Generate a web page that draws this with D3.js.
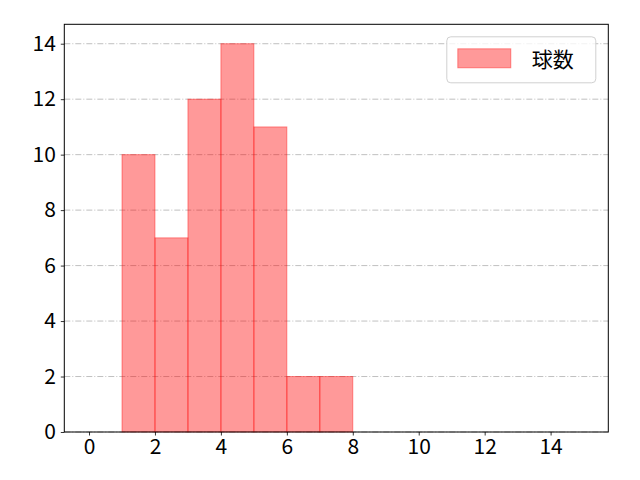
<!DOCTYPE html>
<html>
<head>
<meta charset="utf-8">
<script src="https://cdn.jsdelivr.net/npm/d3@7"></script>
<style>
  body { margin: 0; background: #fff; }
  text { font-family: "Noto Sans CJK JP", "DejaVu Sans", sans-serif; }
</style>
</head>
<body>
<div id="chart"></div>
<script>
// histogram bins (left edge) and counts
var binStarts = [1, 2, 3, 4, 5, 6, 7];
var counts = [10, 7, 12, 14, 11, 2, 2];
var xTicks = [0, 2, 4, 6, 8, 10, 12, 14];
var yTicks = [0, 2, 4, 6, 8, 10, 12, 14];
var seriesName = "球数";

var margin = {top: 24.3, right: 31.7, bottom: 48, left: 64.3},
    width = 640 - margin.left - margin.right,
    height = 480 - margin.top - margin.bottom;

var svg = d3.select("#chart")
  .append("svg")
    .attr("width", 640)
    .attr("height", 480)
  .append("g")
    .attr("transform", "translate(" + margin.left + "," + margin.top + ")");

var x = d3.scaleLinear().domain([-0.75, 15.75]).range([0, width]);
var y = d3.scaleLinear().domain([0, 14.7]).range([height, 0]);

// grid lines
svg.append("g")
  .selectAll("line")
  .data(yTicks)
  .enter().append("line")
    .attr("x1", 0)
    .attr("x2", width)
    .attr("y1", function(d) { return y(d); })
    .attr("y2", function(d) { return y(d); })
    .attr("stroke", "#b0b0b0")
    .attr("stroke-width", 0.8)
    .attr("stroke-dasharray", "6,2,1,2");

// bars
svg.append("g")
  .selectAll("rect")
  .data(counts)
  .enter().append("rect")
    .attr("x", function(d, i) { return x(binStarts[i]); })
    .attr("width", function(d, i) { return x(binStarts[i] + 1) - x(binStarts[i]); })
    .attr("y", function(d) { return y(d); })
    .attr("height", function(d) { return y(0) - y(d); })
    .attr("fill", "rgba(255,0,0,0.4)")
    .attr("stroke", "rgba(255,0,0,0.4)")
    .attr("stroke-width", 1);

// axes
var xAxis = svg.append("g")
  .attr("transform", "translate(0," + height + ")")
  .call(d3.axisBottom(x).tickValues(xTicks).tickSize(3.5).tickPadding(4).tickSizeOuter(0));
var yAxis = svg.append("g")
  .call(d3.axisLeft(y).tickValues(yTicks).tickSize(3.5).tickPadding(5).tickSizeOuter(0));
[xAxis, yAxis].forEach(function(a) {
  a.selectAll("text").style("font-size", "21px").attr("fill", "#000");
  a.selectAll("line").attr("stroke", "#000").attr("stroke-width", 0.8);
  a.select(".domain").remove();
});

// frame
svg.append("rect")
  .attr("width", width)
  .attr("height", height)
  .attr("fill", "none")
  .attr("stroke", "#000")
  .attr("stroke-width", 1);

// legend
var legend = svg.append("g")
  .attr("transform", "translate(" + (width - 161.5) + ",12.5)");
legend.append("rect")
  .attr("width", 149)
  .attr("height", 46)
  .attr("rx", 4)
  .attr("fill", "rgba(255,255,255,0.8)")
  .attr("stroke", "#d0d0d0")
  .attr("stroke-width", 1);
legend.append("rect")
  .attr("x", 11)
  .attr("y", 12)
  .attr("width", 53)
  .attr("height", 19)
  .attr("fill", "rgba(255,0,0,0.4)")
  .attr("stroke", "rgba(255,0,0,0.4)");
legend.append("text")
  .attr("x", 85)
  .attr("y", 30)
  .style("font-size", "21px")
  .text(seriesName);
</script>
</body>
</html>
